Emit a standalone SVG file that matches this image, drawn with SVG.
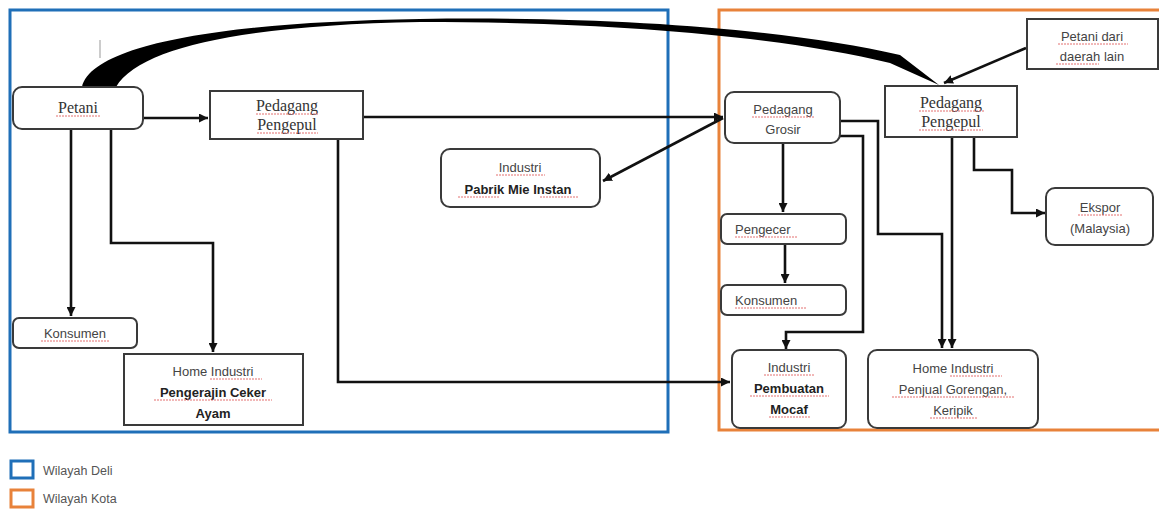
<svg xmlns="http://www.w3.org/2000/svg" width="1159" height="509" viewBox="0 0 1159 509">
<defs>
<style>
.box{fill:#fff;stroke:#3a3a3a;stroke-width:2}
.serif{font-family:"Liberation Serif","Times New Roman",serif;font-size:16px;fill:#333;text-anchor:middle}
.sans{font-family:"Liberation Sans",Arial,sans-serif;font-size:13px;fill:#444;text-anchor:middle}
.b{font-weight:bold;fill:#222}
.conn{fill:none;stroke:#111;stroke-width:2.6}
.sp{fill:none;stroke:#e06060;stroke-width:0.9;stroke-dasharray:2 1}
.region{fill:none;stroke-width:3}
.leg{font-family:"Liberation Sans",Arial,sans-serif;font-size:12.5px;fill:#555}
</style>
<marker id="ah" viewBox="0 0 10 10" refX="10" refY="5" markerWidth="9" markerHeight="9" markerUnits="userSpaceOnUse" orient="auto">
<path d="M0,0 L10,5 L0,10 z" fill="#111"/>
</marker>
</defs>
<rect width="1159" height="509" fill="#fff"/>

<g id="regions">
<rect class="region" x="10" y="10" width="658" height="422" stroke="#1f6fb8"/>
<rect class="region" x="719" y="10" width="445" height="420" stroke="#e8823a"/>
</g>

<g id="connectors">
<path d="M82,87 C92,45 220,22 420,19 C620,16 790,30 900,55 L939,85 L890,63 C780,37 620,22 420,22 C250,25 140,46 116,87 Z" fill="#000"/>
<line x1="100" y1="40" x2="100" y2="58" stroke="#999" stroke-width="1"/>
<path class="conn" d="M143,118 H208" marker-end="url(#ah)"/>
<path class="conn" d="M363,117 H723" marker-end="url(#ah)"/>
<path class="conn" d="M723,118 L603,181" marker-end="url(#ah)"/>
<path class="conn" d="M338,139 V382 H730" marker-end="url(#ah)"/>
<path class="conn" d="M71,129 V316" marker-end="url(#ah)"/>
<path class="conn" d="M111,129 V243 H213 V352" marker-end="url(#ah)"/>
<path class="conn" d="M783,143 V212" marker-end="url(#ah)"/>
<path class="conn" d="M785,244 V283" marker-end="url(#ah)"/>
<path class="conn" d="M840,121 H878 V234 H942 V348" marker-end="url(#ah)"/>
<path class="conn" d="M840,136 H863 V332 H786 V349" marker-end="url(#ah)"/>
<path class="conn" d="M952,137 V348" marker-end="url(#ah)"/>
<path class="conn" d="M974,137 V170 H1012 V213 H1045" marker-end="url(#ah)"/>
<path class="conn" d="M1026,48 L944,83" marker-end="url(#ah)"/>
</g>

<g id="petani">
<rect class="box" x="13" y="87" width="130" height="42" rx="9"/>
<text class="serif" x="78" y="113">Petani</text>
<path class="sp" d="M56,116 H100"/>
</g>

<g id="pedagang-pengepul-deli">
<rect class="box" x="210" y="91" width="153" height="48"/>
<text class="serif" x="287" y="111">Pedagang</text>
<text class="serif" x="287" y="130">Pengepul</text>
<path class="sp" d="M256,114 H319 M257,133 H318"/>
</g>

<g id="pabrik-mie">
<rect class="box" x="441" y="149" width="159" height="58" rx="9"/>
<text class="sans" x="520" y="172">Industri</text>
<text class="sans b" x="518" y="194">Pabrik Mie Instan</text>
<path class="sp" d="M496,175 H545 M458,197 H499 M540,197 H578"/>
</g>

<g id="konsumen-deli">
<rect class="box" x="13" y="318" width="124" height="30" rx="6"/>
<text class="sans" x="75" y="338">Konsumen</text>
<path class="sp" d="M41,341 H110"/>
</g>

<g id="home-industri-ceker">
<rect class="box" x="124" y="354" width="179" height="71"/>
<text class="sans" x="213" y="376">Home Industri</text>
<text class="sans b" x="213" y="397">Pengerajin Ceker</text>
<text class="sans b" x="213" y="418">Ayam</text>
<path class="sp" d="M210,379 H262 M154,400 H272"/>
</g>

<g id="pedagang-grosir">
<rect class="box" x="725" y="92" width="115" height="51" rx="9"/>
<text class="sans" x="783" y="114">Pedagang</text>
<text class="sans" x="783" y="134">Grosir</text>
<path class="sp" d="M752,117 H814"/>
</g>

<g id="pedagang-pengepul-kota">
<rect class="box" x="885" y="86" width="132" height="51"/>
<text class="serif" x="951" y="108">Pedagang</text>
<text class="serif" x="951" y="127">Pengepul</text>
<path class="sp" d="M919,111 H984 M919,130 H983"/>
</g>

<g id="petani-daerah-lain">
<rect class="box" x="1027" y="19" width="131" height="50"/>
<text class="sans" x="1092" y="41">Petani dari</text>
<text class="sans" x="1092" y="61">daerah lain</text>
<path class="sp" d="M1058,44 H1128 M1056,64 H1099"/>
</g>

<g id="pengecer">
<rect class="box" x="721" y="214" width="125" height="30" rx="6"/>
<text class="sans" x="735" y="234" style="text-anchor:start">Pengecer</text>
<path class="sp" d="M735,237 H798"/>
</g>

<g id="konsumen-kota">
<rect class="box" x="721" y="285" width="125" height="30" rx="6"/>
<text class="sans" x="735" y="305" style="text-anchor:start">Konsumen</text>
<path class="sp" d="M735,308 H806"/>
</g>

<g id="industri-mocaf">
<rect class="box" x="732" y="350" width="114" height="78" rx="8"/>
<text class="sans" x="789" y="372">Industri</text>
<text class="sans b" x="789" y="393">Pembuatan</text>
<text class="sans b" x="789" y="414">Mocaf</text>
<path class="sp" d="M764,375 H814 M750,396 H829 M769,417 H810"/>
</g>

<g id="ekspor">
<rect class="box" x="1046" y="188" width="107" height="57" rx="9"/>
<text class="sans" x="1100" y="212">Ekspor</text>
<text class="sans" x="1100" y="233">(Malaysia)</text>
<path class="sp" d="M1078,215 H1122"/>
</g>

<g id="home-industri-gorengan">
<rect class="box" x="868" y="350" width="170" height="78" rx="9"/>
<text class="sans" x="953" y="373">Home Industri</text>
<text class="sans" x="953" y="394">Penjual Gorengan,</text>
<text class="sans" x="953" y="415">Keripik</text>
<path class="sp" d="M950,376 H1002 M892,397 H1015 M930,418 H978"/>
</g>

<g id="legend">
<rect x="11" y="461" width="22" height="17" fill="#fff" stroke="#1f6fb8" stroke-width="3"/>
<text class="leg" x="43" y="475">Wilayah Deli</text>
<rect x="11" y="490" width="22" height="17" fill="#fff" stroke="#e8823a" stroke-width="3"/>
<text class="leg" x="43" y="503">Wilayah Kota</text>
</g>
</svg>
